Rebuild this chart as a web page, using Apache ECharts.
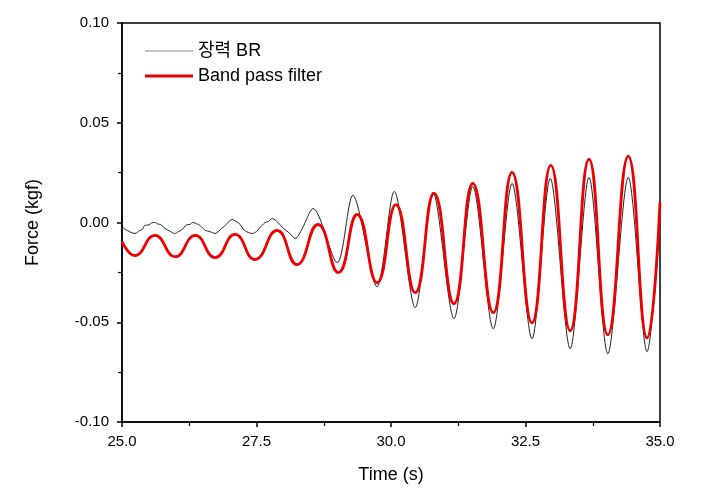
<!DOCTYPE html>
<html>
<head>
<meta charset="utf-8">
<script src="https://cdn.jsdelivr.net/npm/echarts@6/dist/echarts.min.js"></script>
<style>html,body{margin:0;padding:0;background:#fff;}#c{width:702px;height:499px;}</style>
</head>
<body>
<div id="c"></div>
<script>
// Raw signal "장력 BR"
const brTime = [25.00,25.06,25.10,25.17,25.24,25.33,25.38,25.42,25.50,25.55,25.61,25.67,25.72,25.80,25.90,25.98,26.05,26.10,26.20,26.26,26.32,26.40,26.45,26.55,26.63,26.73,26.85,26.90,26.95,27.05,27.12,27.18,27.28,27.42,27.50,27.55,27.66,27.72,27.79,27.90,28.00,28.10,28.22,28.35,28.55,29.00,29.29,29.74,30.06,30.45,30.78,31.17,31.52,31.90,32.25,32.62,32.96,33.33,33.68,34.03,34.41,34.76,35.00];
const brForce = [-0.0020,-0.0035,-0.0040,-0.0050,-0.0055,-0.0040,-0.0035,-0.0015,-0.0012,-0.0002,0.0000,-0.0008,-0.0010,-0.0030,-0.0045,-0.0055,-0.0045,-0.0040,-0.0012,-0.0010,0.0000,-0.0008,-0.0015,-0.0040,-0.0045,-0.0055,-0.0030,-0.0020,-0.0005,0.0015,0.0005,-0.0005,-0.0040,-0.0055,-0.0045,-0.0030,0.0000,0.0005,0.0020,0.0000,-0.0030,-0.0050,-0.0080,-0.0030,0.0070,-0.0201,0.0136,-0.0322,0.0156,-0.0427,0.0151,-0.0482,0.0181,-0.0533,0.0196,-0.0583,0.0221,-0.0633,0.0226,-0.0658,0.0226,-0.0648,-0.0010];
// Band pass filtered signal
const bpfTime = [25.00,25.24,25.61,25.99,26.36,26.73,27.10,27.47,27.88,28.25,28.64,29.02,29.37,29.74,30.09,30.45,30.80,31.17,31.52,31.90,32.25,32.62,32.97,33.33,33.68,34.03,34.41,34.76,35.00];
const bpfForce = [-0.0095,-0.0166,-0.0065,-0.0171,-0.0065,-0.0176,-0.0060,-0.0186,-0.0040,-0.0211,-0.0010,-0.0251,0.0040,-0.0302,0.0090,-0.0352,0.0146,-0.0407,0.0196,-0.0452,0.0251,-0.0503,0.0286,-0.0543,0.0317,-0.0563,0.0332,-0.0578,0.0101];
const seriesNames = ['장력 BR', 'Band pass filter'];

const FONT = '"Liberation Sans", Arial, "Noto Sans CJK KR", sans-serif';
const chart = echarts.init(document.getElementById('c'), null, {renderer:'canvas'});
chart.setOption({
  animation:false,
  backgroundColor:'#fff',
  textStyle:{fontFamily:FONT},
  grid:{left:122,right:42,top:23,bottom:77,show:true,borderColor:'#000',borderWidth:1.5,backgroundColor:'transparent'},
  legend:{
    left:140, top:37, orient:'vertical', itemWidth:48, itemHeight:14, itemGap:7,
    textStyle:{fontSize:18,color:'#000',fontFamily:FONT},
    data:[
      {name:seriesNames[0], icon:'path://M0 0H48V1H0Z', itemStyle:{color:'#8a8a8a'}},
      {name:seriesNames[1], icon:'path://M0 0H48V3H0Z', itemStyle:{color:'#dd0000'}}
    ]
  },
  xAxis:{
    type:'value', min:25, max:35, interval:2.5,
    name:'Time (s)', nameLocation:'middle', nameGap:44,
    nameTextStyle:{fontSize:18,color:'#000',fontFamily:FONT},
    axisLine:{onZero:false,lineStyle:{color:'#000',width:1.5}},
    axisTick:{length:5,lineStyle:{color:'#000',width:1.5}},
    minorTick:{show:true,splitNumber:2,length:4,lineStyle:{color:'#000',width:1.2}},
    axisLabel:{fontSize:15,color:'#000',margin:12,formatter:v=>v.toFixed(1),fontFamily:FONT},
    splitLine:{show:false}
  },
  yAxis:{
    type:'value', min:-0.1, max:0.1, interval:0.05,
    name:'Force (kgf)', nameLocation:'middle', nameGap:80, nameRotate:90,
    nameTextStyle:{fontSize:18,color:'#000',fontFamily:FONT},
    axisLine:{show:true,onZero:false,lineStyle:{color:'#000',width:1.5}},
    axisTick:{show:true,length:5,lineStyle:{color:'#000',width:1.5}},
    minorTick:{show:true,splitNumber:2,length:4,lineStyle:{color:'#000',width:1.2}},
    axisLabel:{fontSize:15,color:'#000',margin:13,formatter:v=>v.toFixed(2),fontFamily:FONT},
    splitLine:{show:false}
  },
  series:[
    {name:seriesNames[0], type:'line', data:brTime.map((t,i)=>[t,brForce[i]]), symbol:'none', smooth:0.3,
     lineStyle:{color:'#222',width:1}, itemStyle:{color:'#888'}, z:2},
    {name:seriesNames[1], type:'line', data:bpfTime.map((t,i)=>[t,bpfForce[i]]), symbol:'none', smooth:0.5,
     lineStyle:{color:'#ee0000',width:2.8}, itemStyle:{color:'#dd0000'}, z:3}
  ]
});
</script>
</body>
</html>
